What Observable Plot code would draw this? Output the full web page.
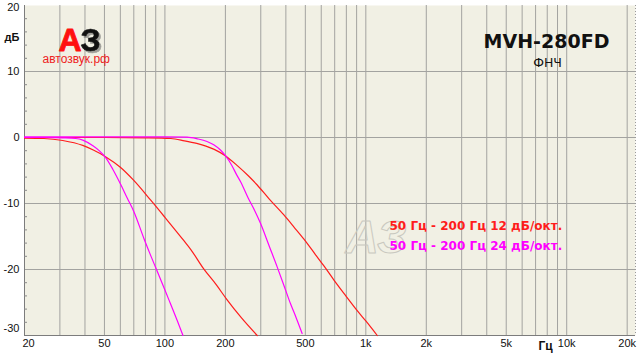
<!DOCTYPE html>
<html><head><meta charset="utf-8">
<script src="https://cdn.jsdelivr.net/npm/d3@7"></script>
<script src="https://cdn.jsdelivr.net/npm/@observablehq/plot@0.6"></script>
<style>body{margin:0;background:#fff} #chart svg{display:block}</style>
</head><body><div id="chart"></div>
<script>
// ---- data ----
const xDomain = [20, 22000];
const yDomain = [-30, 20];
const xTickValues = [20, 50, 100, 200, 500, 1000, 2000, 5000, 10000, 20000];
const xTickLabels = ["20", "50", "100", "200", "500", "1k", "2k", "5k", "10k", "20k"];
const yTickValues = [-30, -20, -10, 0, 10, 20];
const yTickLabels = ["-30", "-20", "-10", "0", "10", "20"];
const gridX = [20,30,40,50,60,70,80,90,100,200,300,400,500,600,700,800,900,1000,2000,3000,4000,5000,6000,7000,8000,9000,10000,20000];
const gridY = [-20, -10, 0, 10];
const minorY = [-28,-26,-24,-22,-18,-16,-14,-12,-8,-6,-4,-2,2,4,6,8,12,14,16,18];

const seriesNames = ["50 Гц - 200 Гц 12 дБ/окт.", "50 Гц - 200 Гц 24 дБ/окт."];
const seriesColors = ["#ff1c1c", "#ff00ff"];

const freqRed50 = [20, 25, 31, 39, 44, 50.6, 60, 70, 85, 100, 124, 134, 156, 180, 204, 240, 288];
const dbRed50   = [-0.1, -0.15, -0.45, -1.2, -1.9, -2.9, -4.5, -6.5, -9.5, -12.1, -15.6, -16.9, -19.9, -22.3, -24.6, -27.3, -30.0];

const freqMag50 = [20, 25, 31, 36, 39, 44, 47.5, 50.6, 55, 60, 65, 70, 78.6, 85, 90.8, 100, 106.6, 115, 123];
const dbMag50   = [0, 0, -0.05, -0.15, -0.4, -1.3, -2.1, -3.0, -4.8, -7.0, -9.2, -11.2, -15.3, -17.9, -20.0, -23.1, -25.2, -27.7, -30.0];

const freqRed200 = [20, 50, 80, 107, 125, 144, 160, 176, 200.6, 230, 260, 288, 330, 390, 440, 492, 560, 620, 694, 800, 904, 1000, 1140];
const dbRed200   = [0, 0, -0.05, -0.15, -0.5, -0.9, -1.3, -1.8, -2.8, -4.3, -5.8, -7.2, -9.3, -11.7, -13.6, -15.4, -17.7, -19.5, -21.6, -24.1, -26.2, -27.8, -30.0];

const freqMag200 = [20, 100, 129, 145, 162, 175, 189, 200.6, 215, 228, 238, 260, 280, 299, 330, 362, 390, 422, 450, 482];
const dbMag200   = [0.1, 0.1, 0.05, -0.2, -0.6, -1.1, -1.9, -2.8, -4.2, -5.7, -6.7, -9.2, -11.1, -13.0, -16.4, -19.6, -22.3, -25.2, -27.3, -29.7];

// ---- build tables ----
function toRows(freqs, dbs, key, series) {
  return freqs.map((f, i) => ({f, db: dbs[i], key, series}));
}
const redRows = [...toRows(freqRed50, dbRed50, "r50", 0), ...toRows(freqRed200, dbRed200, "r200", 0)];
const magRows = [...toRows(freqMag50, dbMag50, "m50", 1), ...toRows(freqMag200, dbMag200, "m200", 1)];
const xTicks = xTickValues.map((v, i) => ({v, label: xTickLabels[i]}));
const yTicks = yTickValues.map((v, i) => ({v, label: yTickLabels[i]}));

const gridColor = "#a3a3a0";
const axisFont = "Liberation Sans, Arial, sans-serif";
const yLabelOpts = {y: "v", text: "label", frameAnchor: "left", textAnchor: "end", dx: -5, fontSize: 11, fill: "#111"};
const xLabelOpts = {x: "v", text: "label", frameAnchor: "bottom", lineAnchor: "top", dy: 4, fontSize: 11, fill: "#111"};

const chart = Plot.plot({
  width: 640, height: 354,
  marginLeft: 24, marginRight: 5, marginTop: 5, marginBottom: 19,
  style: {background: "#fff", fontFamily: axisFont, fontSize: "11px", color: "#111"},
  x: {type: "log", domain: xDomain, axis: null},
  y: {domain: yDomain, axis: null},
  marks: [
    Plot.frame({fill: "#f1f0e4", stroke: null}),
    Plot.ruleX(gridX, {stroke: gridColor, strokeWidth: 1}),
    Plot.ruleY(gridY, {stroke: gridColor, strokeWidth: 1}),
    // watermark
    Plot.text(["АЗ"], {frameAnchor: "top-left", dx: 321, dy: 247, lineAnchor: "bottom", textAnchor: "start",
      fontSize: 46, fontWeight: "bold", fontStyle: "italic", fontFamily: "Liberation Sans, Arial, sans-serif",
      fill: "none", stroke: "#c9c8bf", strokeWidth: 1}),
    // axes lines
    Plot.ruleX([xDomain[0]], {stroke: "#7c7c7c"}),
    Plot.ruleY([yDomain[0]], {stroke: "#7c7c7c"}),
    Plot.ruleX([xDomain[1]], {stroke: "#9a9a9a", strokeDasharray: "1,2"}),
    Plot.axisY({anchor: "left", ticks: minorY, tickSize: -3, tickFormat: () => "", label: null, stroke: "#8a8a8a"}),
    // curves
    Plot.line(redRows, {x: "f", y: "db", z: "key", stroke: seriesColors[0], strokeWidth: 1.2, curve: "monotone-x"}),
    Plot.line(magRows, {x: "f", y: "db", z: "key", stroke: seriesColors[1], strokeWidth: 1.2, curve: "monotone-x"}),
    // y tick labels (corner ones nudged inward as in the reference)
    Plot.text(yTicks.slice(1, 5), yLabelOpts),
    Plot.text(yTicks.slice(5), {...yLabelOpts, dy: 2}),
    Plot.text(yTicks.slice(0, 1), {...yLabelOpts, dy: -7}),
    // x tick labels
    Plot.text(xTicks.slice(1), xLabelOpts),
    Plot.text(xTicks.slice(0, 1), {...xLabelOpts, dx: 4}),
    // units
    Plot.text(["дБ"], {frameAnchor: "top-left", dx: -20, dy: 35, textAnchor: "start", lineAnchor: "bottom",
      fontSize: 11, fontWeight: "bold", fill: "#111"}),
    Plot.text(["Гц"], {frameAnchor: "top-left", dx: 514, dy: 344, textAnchor: "start", lineAnchor: "bottom",
      fontSize: 12, fontWeight: "bold", fill: "#111"}),
    // logo
    Plot.text(["А"], {frameAnchor: "top-left", dx: 34, dy: 45, textAnchor: "start", lineAnchor: "bottom",
      fontSize: 32, fontWeight: "bold", fill: "#ff1010", stroke: "#ff1010", strokeWidth: 0.8}),
    Plot.text(["З"], {frameAnchor: "top-left", dx: 56, dy: 45, textAnchor: "start", lineAnchor: "bottom",
      fontSize: 32, fontWeight: "bold", fill: "#111", stroke: "#111", strokeWidth: 0.6,
      imageFilter: "drop-shadow(2px 2px 0 rgba(90,90,90,0.55))"}),
    Plot.text(["автозвук.рф"], {frameAnchor: "top-left", dx: 18, dy: 57, textAnchor: "start", lineAnchor: "bottom",
      fontSize: 12, fill: "#ee2222"}),
    // title
    Plot.text(["MVH-280FD"], {frameAnchor: "top-left", dx: 522, dy: 42, textAnchor: "middle", lineAnchor: "bottom",
      fontSize: 19, fontWeight: "bold", fontFamily: "DejaVu Sans, sans-serif", fill: "#111"}),
    Plot.text(["ФНЧ"], {frameAnchor: "top-left", dx: 523, dy: 61, textAnchor: "middle", lineAnchor: "bottom",
      fontSize: 12.5, fontFamily: "DejaVu Sans, sans-serif", fill: "#111"}),
    // legend
    Plot.text([seriesNames[0]], {frameAnchor: "top-left", dx: 365, dy: 224, textAnchor: "start", lineAnchor: "bottom",
      fontSize: 12, fontWeight: "bold", fontFamily: "DejaVu Sans, sans-serif", fill: seriesColors[0]}),
    Plot.text([seriesNames[1]], {frameAnchor: "top-left", dx: 365, dy: 244, textAnchor: "start", lineAnchor: "bottom",
      fontSize: 12, fontWeight: "bold", fontFamily: "DejaVu Sans, sans-serif", fill: seriesColors[1]})
  ]
});
document.getElementById("chart").appendChild(chart);
</script>
</body></html>
